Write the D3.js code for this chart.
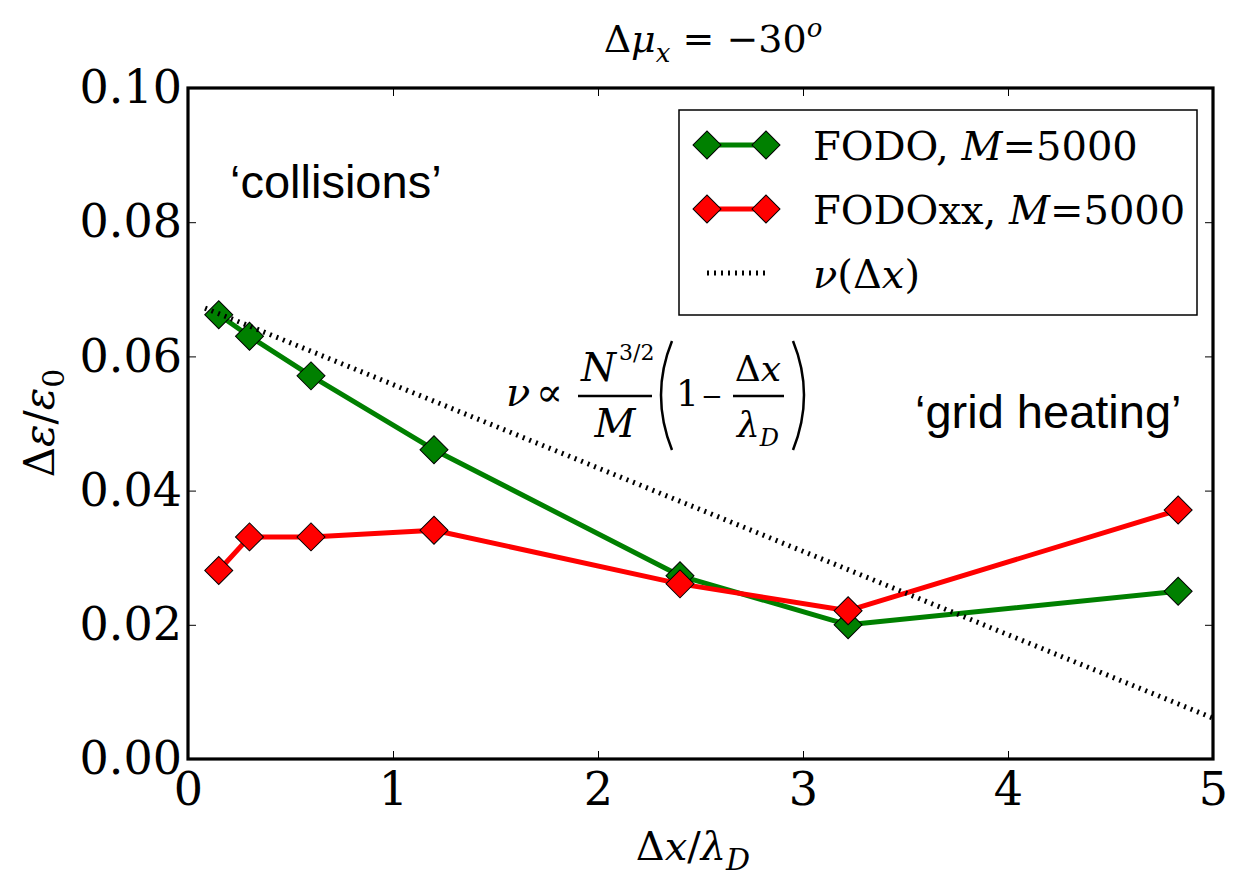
<!DOCTYPE html>
<html>
<head>
<meta charset="utf-8">
<script src="https://cdn.jsdelivr.net/npm/d3@7"></script>
<style>
  body { margin: 0; background: #fff; }
  svg { display: block; }
</style>
</head>
<body>
<svg id="chart"></svg>
<script>
// data
const dxValues = [0.15, 0.3, 0.6, 1.2, 2.4, 3.22, 4.83];
const fodo = [0.0662, 0.0630, 0.0571, 0.0461, 0.0273, 0.0200, 0.0250];
const fodoxx = [0.0281, 0.0331, 0.0331, 0.0341, 0.0261, 0.0221, 0.0371];
const nuX = [0.083, 5.0];
const nuY = [0.0672, 0.0061];
const xTicks = [0, 1, 2, 3, 4, 5];
const yTicks = [0, 0.02, 0.04, 0.06, 0.08, 0.10];

const W = 1236, H = 876;
const svg = d3.select("#chart").attr("width", W).attr("height", H);

const x = d3.scaleLinear().domain([0, 5]).range([188, 1213]);
const y = d3.scaleLinear().domain([0, 0.1]).range([759, 88]);

const serif = "'DejaVu Serif', serif";

// axes, ticks pointing inward like matplotlib classic
const bottom = svg.append("g")
   .attr("transform", "translate(0,759)")
   .call(d3.axisBottom(x).tickValues(xTicks).tickSize(-8).tickPadding(13).tickFormat(d3.format("d")));
const left = svg.append("g")
   .attr("transform", "translate(188,0)")
   .call(d3.axisLeft(y).tickValues(yTicks).tickSize(-8).tickPadding(6).tickFormat(d3.format(".2f")));
svg.append("g")
   .attr("transform", "translate(0,88)")
   .call(d3.axisTop(x).tickValues(xTicks).tickSize(-8).tickFormat(""));
svg.append("g")
   .attr("transform", "translate(1213,0)")
   .call(d3.axisRight(y).tickValues(yTicks).tickSize(-8).tickFormat(""));

svg.selectAll(".domain").remove();
svg.selectAll(".tick line").attr("stroke", "#000").attr("stroke-width", 1);
[bottom, left].forEach(g => g.selectAll("text")
   .attr("font-family", serif).attr("font-size", 46).attr("fill", "#000"));

// frame
svg.append("rect")
   .attr("x", 188).attr("y", 88)
   .attr("width", 1213 - 188).attr("height", 759 - 88)
   .attr("fill", "none").attr("stroke", "#000").attr("stroke-width", 3.2);

const diamond = d3.symbol().type(d3.symbolSquare).size(392);

function drawSeries(vals, color) {
    const pts = dxValues.map((d, i) => [d, vals[i]]);
    svg.append("path")
       .datum(pts)
       .attr("fill", "none")
       .attr("stroke", color)
       .attr("stroke-width", 5)
       .attr("stroke-linejoin", "round")
       .attr("d", d3.line().x(d => x(d[0])).y(d => y(d[1])));
    svg.selectAll(null)
       .data(pts)
       .enter().append("path")
       .attr("d", diamond)
       .attr("transform", d => `translate(${x(d[0])},${y(d[1])}) rotate(45)`)
       .attr("fill", color)
       .attr("stroke", "#000")
       .attr("stroke-width", 1);
}
drawSeries(fodo, "#008000");
drawSeries(fodoxx, "#ff0000");

// nu(dx) dotted line
svg.append("path")
   .datum(nuX.map((d, i) => [d, nuY[i]]))
   .attr("fill", "none")
   .attr("stroke", "#000")
   .attr("stroke-width", 5)
   .attr("stroke-dasharray", "2,5")
   .attr("d", d3.line().x(d => x(d[0])).y(d => y(d[1])));

// title
const title = svg.append("text")
   .attr("x", 713).attr("y", 52)
   .attr("text-anchor", "middle")
   .attr("font-family", serif)
   .attr("font-size", 38);
title.append("tspan").text("Δ");
title.append("tspan").attr("font-style", "italic").text("μ");
title.append("tspan").attr("font-style", "italic").attr("font-size", 26).attr("dy", 10).text("x");
title.append("tspan").attr("dy", -10).text(" = −30");
title.append("tspan").attr("font-style", "italic").attr("font-size", 26).attr("dy", -15).text("o");

// axis labels
const xl = svg.append("text")
   .attr("x", 693).attr("y", 860)
   .attr("text-anchor", "middle")
   .attr("font-family", serif)
   .attr("font-size", 40);
xl.append("tspan").text("Δ");
xl.append("tspan").attr("font-style", "italic").text("x");
xl.append("tspan").text("/");
xl.append("tspan").attr("font-style", "italic").text("λ");
xl.append("tspan").attr("font-style", "italic").attr("font-size", 30).attr("dy", 10).text("D");

const yl = svg.append("text")
   .attr("transform", "translate(54,423) rotate(-90)")
   .attr("text-anchor", "middle")
   .attr("font-family", serif)
   .attr("font-size", 42);
yl.append("tspan").text("Δ");
yl.append("tspan").attr("font-style", "italic").text("ε");
yl.append("tspan").text("/");
yl.append("tspan").attr("font-style", "italic").text("ε");
yl.append("tspan").attr("font-size", 30).attr("dy", 10).text("0");

// annotations
svg.append("text")
   .attr("x", 230).attr("y", 198)
   .attr("font-family", "'Liberation Sans', Arial, sans-serif")
   .attr("font-size", 47)
   .text("‘collisions’");
svg.append("text")
   .attr("x", 915).attr("y", 428)
   .attr("font-family", "'Liberation Sans', Arial, sans-serif")
   .attr("font-size", 47)
   .text("‘grid heating’");

// formula
const f = svg.append("g")
   .attr("font-family", serif)
   .attr("font-size", 40);
f.append("text").attr("x", 506).attr("y", 406).attr("font-style", "italic").text("ν");
f.append("text").attr("x", 536).attr("y", 406).text("∝");
f.append("line").attr("x1", 578).attr("x2", 652).attr("y1", 396).attr("y2", 396)
   .attr("stroke", "#000").attr("stroke-width", 2.5);
f.append("text").attr("x", 581).attr("y", 381).attr("font-style", "italic").text("N");
f.append("text").attr("x", 619).attr("y", 360).attr("font-size", 22).text("3/2");
f.append("text").attr("x", 615).attr("y", 437).attr("text-anchor", "middle").attr("font-style", "italic").text("M");
f.append("path").attr("d", "M672,341 Q650,395 672,450").attr("fill", "none").attr("stroke", "#000").attr("stroke-width", 2.5);
f.append("path").attr("d", "M793,341 Q815,395 793,450").attr("fill", "none").attr("stroke", "#000").attr("stroke-width", 2.5);
f.append("text").attr("x", 676).attr("y", 406).attr("font-size", 36).text("1");
f.append("text").attr("x", 701).attr("y", 405).attr("font-size", 26).text("−");
f.append("line").attr("x1", 733).attr("x2", 784).attr("y1", 396).attr("y2", 396)
   .attr("stroke", "#000").attr("stroke-width", 2.5);
const num = f.append("text").attr("x", 758).attr("y", 381).attr("text-anchor", "middle").attr("font-size", 36);
num.append("tspan").text("Δ");
num.append("tspan").attr("font-style", "italic").text("x");
const den = f.append("text").attr("x", 737).attr("y", 437).attr("font-style", "italic").attr("font-size", 36);
den.append("tspan").text("λ");
den.append("tspan").attr("font-size", 24).attr("dy", 9).text("D");

// legend
const legend = svg.append("g");
legend.append("rect")
   .attr("x", 679).attr("y", 110)
   .attr("width", 1197 - 679).attr("height", 315 - 110)
   .attr("fill", "#fff").attr("stroke", "#000").attr("stroke-width", 1.5);

const legendItems = [
    { label: "FODO, ", color: "#008000", rowY: 145 },
    { label: "FODOxx, ", color: "#ff0000", rowY: 209 }
];
legendItems.forEach(it => {
    legend.append("line")
       .attr("x1", 707).attr("x2", 766).attr("y1", it.rowY).attr("y2", it.rowY)
       .attr("stroke", it.color).attr("stroke-width", 5);
    [707, 766].forEach(cx => legend.append("path")
       .attr("d", diamond)
       .attr("transform", `translate(${cx},${it.rowY}) rotate(45)`)
       .attr("fill", it.color).attr("stroke", "#000").attr("stroke-width", 1));
    const t = legend.append("text")
       .attr("x", 813).attr("y", it.rowY + 15)
       .attr("font-family", serif).attr("font-size", 40);
    t.append("tspan").text(it.label);
    t.append("tspan").attr("font-style", "italic").text("M");
    t.append("tspan").text("=5000");
});
legend.append("line")
   .attr("x1", 707).attr("x2", 766).attr("y1", 273).attr("y2", 273)
   .attr("stroke", "#000").attr("stroke-width", 5).attr("stroke-dasharray", "2,5");
const nuT = legend.append("text")
   .attr("x", 813).attr("y", 288)
   .attr("font-family", serif).attr("font-size", 40);
nuT.append("tspan").attr("font-style", "italic").text("ν");
nuT.append("tspan").text("(Δ");
nuT.append("tspan").attr("font-style", "italic").text("x");
nuT.append("tspan").text(")");
</script>
</body>
</html>
